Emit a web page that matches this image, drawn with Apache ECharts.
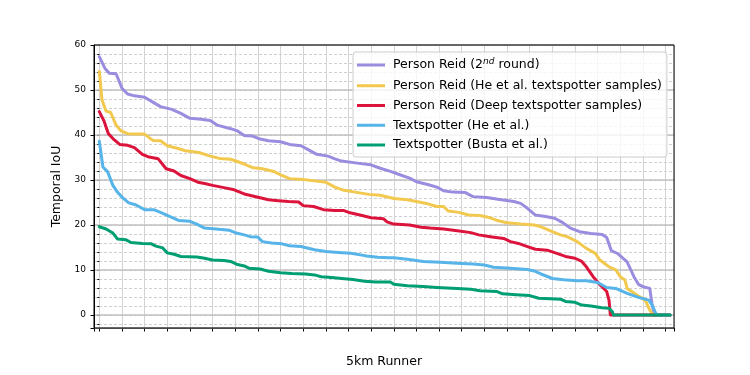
<!DOCTYPE html>
<html>
<head>
  <meta charset="utf-8">
  <title>Temporal IoU - 5km Runner</title>
  <script src="https://cdn.jsdelivr.net/npm/echarts@6/dist/echarts.min.js"></script>
  <style>
    html, body { margin: 0; padding: 0; background: #fff; }
    #chart { width: 750px; height: 375px; }
  </style>
</head>
<body>
<div id="chart"></div>
<script>
    // sorted per-video temporal IoU (x = video rank)
    const reid2X = [0, 2.5, 4.4, 7.4, 10, 12.5, 15.5, 20, 24, 27, 32, 36, 40, 45, 49, 52, 58, 61, 64, 67.4, 71, 74.7, 80, 84, 89, 92, 96, 101, 104, 107, 113, 119.6, 124, 128.5, 133, 137, 140, 145, 149, 152, 156, 161.6, 165, 171, 176, 183, 186, 189, 192.5, 197, 201, 204, 208, 212, 217, 222, 224, 226, 229, 233, 236, 238, 240.4, 243, 244, 245, 252];
    const reid2Y = [57.4, 54.8, 53.7, 53.6, 50.4, 49.1, 48.7, 48.4, 47.2, 46.3, 45.7, 44.8, 43.7, 43.5, 43.2, 42.2, 41.4, 40.9, 39.9, 39.8, 39.1, 38.7, 38.5, 37.9, 37.6, 36.8, 35.7, 35.3, 34.7, 34.2, 33.8, 33.4, 32.6, 31.9, 31.1, 30.4, 29.6, 29.0, 28.4, 27.6, 27.3, 27.2, 26.3, 26.1, 25.7, 25.2, 24.8, 23.7, 22.2, 21.9, 21.5, 20.7, 19.3, 18.5, 18.1, 17.9, 17.2, 14.3, 13.6, 11.8, 8.5, 6.8, 6.2, 5.9, 2.5, 0, 0];

    const heSamplesX = [0, 1.2, 3, 5, 7.4, 9.6, 12.5, 16, 20, 23.6, 27, 30, 34, 38, 44, 49, 53, 58, 63.7, 68, 72, 77, 80.6, 84, 90, 95, 100, 104, 108, 113, 119, 124, 130, 136, 140, 145, 149, 152, 154, 158.7, 163, 168, 172.6, 175.6, 180, 186, 192, 195, 200, 203.6, 206.5, 211, 215, 219, 221, 225, 228, 230, 232, 233, 237.5, 241, 243, 244.5, 252];
    const heSamplesY = [54.1, 47.8, 45.3, 45.0, 42.2, 40.9, 40.3, 40.2, 40.2, 38.8, 38.7, 37.6, 37.1, 36.5, 36.1, 35.3, 34.8, 34.6, 33.6, 32.7, 32.5, 31.9, 31.0, 30.3, 30.1, 29.8, 29.5, 28.4, 27.7, 27.3, 26.8, 26.6, 25.9, 25.6, 25.2, 24.7, 24.1, 24.1, 23.1, 22.8, 22.2, 22.1, 21.6, 21.0, 20.5, 20.2, 20.0, 19.6, 18.5, 17.8, 17.4, 16.3, 14.8, 13.7, 12.2, 10.7, 10.0, 8.5, 7.8, 5.9, 4.4, 3.3, 1.1, 0, 0];

    const deepSamplesX = [0, 2, 4, 6, 9, 12.5, 15.5, 19, 22, 26, 29.5, 33, 36, 40, 43.5, 46.5, 50, 55, 59, 64, 69.6, 74.7, 79, 83.5, 88, 90, 94.6, 99, 104, 108, 110.7, 116, 120, 125.4, 127, 130, 137, 142, 146, 152, 158, 164, 167.5, 172.6, 178.5, 181.5, 185, 189, 192.5, 197.7, 202, 205.8, 210, 213, 215, 218, 221, 224, 225, 225.6, 252];
    const deepSamplesY = [45.2, 43.2, 40.3, 39.2, 37.9, 37.7, 37.2, 35.7, 35.1, 34.7, 32.5, 32.0, 31.0, 30.3, 29.5, 29.2, 28.8, 28.3, 27.9, 26.9, 26.2, 25.6, 25.4, 25.2, 25.1, 24.3, 24.1, 23.4, 23.2, 23.2, 22.7, 22.1, 21.6, 21.4, 20.7, 20.2, 20.0, 19.5, 19.3, 19.1, 18.7, 18.3, 17.8, 17.4, 17.0, 16.3, 15.9, 15.2, 14.6, 14.4, 13.7, 13.0, 12.6, 11.9, 10.7, 8.5, 6.7, 5.2, 3.3, 0, 0];

    const heSpotterX = [0, 1.6, 3.7, 6, 8, 10, 13, 16, 20, 24, 27, 31, 35, 40, 43, 46.5, 51.5, 57.5, 60.5, 64, 66.6, 70, 72, 76, 80.6, 84, 89, 95, 100, 105.6, 111, 116, 118, 123, 128, 130, 136, 143, 150.6, 158, 165, 170, 174, 181.5, 189, 192.5, 195, 200, 205, 211, 215, 220, 224, 228, 233, 238, 242.6, 244, 246, 252];
    const heSpotterY = [38.6, 32.9, 31.8, 28.8, 27.3, 26.2, 24.9, 24.5, 23.4, 23.4, 22.8, 21.9, 21.0, 20.8, 20.2, 19.3, 19.1, 18.8, 18.2, 17.8, 17.4, 17.3, 16.3, 16.0, 15.8, 15.4, 15.2, 14.5, 14.1, 13.9, 13.7, 13.3, 13.1, 12.8, 12.7, 12.7, 12.4, 11.9, 11.7, 11.5, 11.3, 11.1, 10.6, 10.4, 10.1, 9.7, 9.1, 8.1, 7.8, 7.6, 7.6, 7.2, 6.1, 5.9, 4.8, 3.9, 3.3, 2.2, 0, 0];

    const bustaX = [0, 3, 6, 8, 11.8, 14, 19, 23, 25, 28, 30, 33, 36, 43, 46.5, 50, 55, 58, 61, 64, 66, 71, 74.7, 80, 85, 91, 95, 98, 102.6, 107, 112, 117, 122, 128.5, 130, 136, 143, 149, 158, 164, 168, 175.6, 178, 184, 190, 194, 199, 203.6, 205.8, 210, 213, 217, 222, 225, 226.5, 227, 252];
    const bustaY = [19.6, 19.1, 18.2, 16.9, 16.7, 16.1, 15.9, 15.8, 15.3, 14.9, 13.8, 13.5, 13.0, 12.9, 12.6, 12.2, 12.1, 11.9, 11.2, 10.9, 10.4, 10.2, 9.7, 9.4, 9.2, 9.1, 8.9, 8.5, 8.3, 8.1, 7.9, 7.5, 7.3, 7.3, 6.8, 6.5, 6.3, 6.1, 5.9, 5.7, 5.4, 5.2, 4.7, 4.5, 4.3, 3.7, 3.6, 3.5, 3.0, 2.8, 2.2, 2.0, 1.6, 1.5, 0.7, 0, 0];

    const seriesNames = [
        'Person Reid (2nd round)',
        'Person Reid (He et al. textspotter samples)',
        'Person Reid (Deep textspotter samples)',
        'Textspotter (He et al.)',
        'Textspotter (Busta et al.)'
    ];
    const seriesColors = ['#9c8ce0', '#f2c94e', '#dc143c', '#56b4e9', '#009e73'];
    const seriesX = [reid2X, heSamplesX, deepSamplesX, heSpotterX, bustaX];
    const seriesY = [reid2Y, heSamplesY, deepSamplesY, heSpotterY, bustaY];

    // axis extents (matplotlib margins)
    const xMin = -2.34, xMax = 253.7;
    const yMin = -2.9, yMax = 60;

    const font = 'DejaVu Sans';

    function pairs(xs, ys) {
        let out = [];
        for (let i = 0; i < xs.length; i++) {
            out.push([xs[i], ys[i]]);
        }
        return out;
    }

    let series = [];
    for (let k = 0; k < seriesNames.length; k++) {
        series.push({
            name: seriesNames[k],
            type: 'line',
            xAxisIndex: 0,
            yAxisIndex: 0,
            showSymbol: false,
            symbol: 'none',
            z: 3,
            color: seriesColors[k],
            lineStyle: {width: 3, color: seriesColors[k], cap: 'round', join: 'round'},
            data: pairs(seriesX[k], seriesY[k])
        });
    }

    let myChart = echarts.init(document.getElementById('chart'), null, {renderer: 'canvas'});
    myChart.setOption({
        animation: false,
        backgroundColor: '#fff',
        textStyle: {fontFamily: font},
        grid: {
            left: 94,
            right: 76,
            top: 45,
            bottom: 47,
            show: true,
            z: 2,
            backgroundColor: 'transparent',
            borderColor: '#000',
            borderWidth: 1
        },
        legend: {
            orient: 'vertical',
            left: 353,
            top: 52,
            padding: [5, 5, 5, 4],
            itemGap: 5.75,
            itemWidth: 28,
            itemHeight: 3,
            icon: 'rect',
            backgroundColor: 'rgba(255,255,255,0.8)',
            borderColor: '#cccccc',
            borderWidth: 1,
            borderRadius: 3,
            z: 5,
            data: seriesNames,
            formatter: function (name) {
                if (name === seriesNames[0]) {
                    return '{t|Person Reid (2}{sup|nd}{t| round)}';
                }
                return '{t|' + name + '}';
            },
            textStyle: {
                fontFamily: font,
                fontSize: 12.5,
                color: '#000',
                lineHeight: 14,
                padding: [0, 0, 0, 3],
                rich: {
                    t: {fontFamily: font, fontSize: 12.5, color: '#000', lineHeight: 14},
                    sup: {fontFamily: font, fontSize: 9, fontStyle: 'italic', color: '#000', lineHeight: 14, padding: [0, 0, 7, 0]}
                }
            }
        },
        xAxis: [{
            type: 'value',
            min: xMin,
            max: xMax,
            splitNumber: 25,
            z: 0,
            name: '5km Runner',
            nameLocation: 'middle',
            nameGap: 27,
            nameTextStyle: {fontFamily: font, fontSize: 12.5, color: '#000'},
            axisLine: {show: true, onZero: false, lineStyle: {color: '#000', width: 1}},
            axisTick: {show: true, length: 3.5, lineStyle: {color: '#000', width: 1}},
            axisLabel: {show: false},
            splitLine: {show: true, lineStyle: {color: '#d3d3d3', width: 1, type: 'solid'}}
        }],
        yAxis: [{
            // major: labels, solid grid every 10
            type: 'value',
            min: yMin,
            max: yMax,
            splitNumber: 6,
            z: 1,
            name: 'Temporal IoU',
            nameLocation: 'middle',
            nameGap: 21,
            nameTextStyle: {fontFamily: font, fontSize: 12.5, color: '#000'},
            axisLine: {show: true, onZero: false, lineStyle: {color: '#000', width: 1}},
            axisTick: {show: true, length: 3.5, lineStyle: {color: '#000', width: 1}},
            axisLabel: {
                fontFamily: font,
                fontSize: 9,
                color: '#000',
                margin: 8,
                padding: [3, 0, 0, 0],
                formatter: function (v) {
                    return (Math.abs(v % 10) < 1e-6) ? String(Math.round(v)) : '';
                }
            },
            splitLine: {show: true, lineStyle: {color: '#c0c0c0', width: 1.6}}
        }, {
            // minor: dashed grid every 2 and small ticks
            type: 'value',
            position: 'left',
            min: yMin,
            max: yMax,
            splitNumber: 31,
            z: 0,
            axisLine: {show: false},
            axisTick: {show: true, length: 2, lineStyle: {color: '#000', width: 1}},
            axisLabel: {show: false},
            splitLine: {show: true, lineStyle: {color: '#d0d0d0', width: 1, type: [3, 2]}}
        }],
        series: series
    });
</script>
</body>
</html>
